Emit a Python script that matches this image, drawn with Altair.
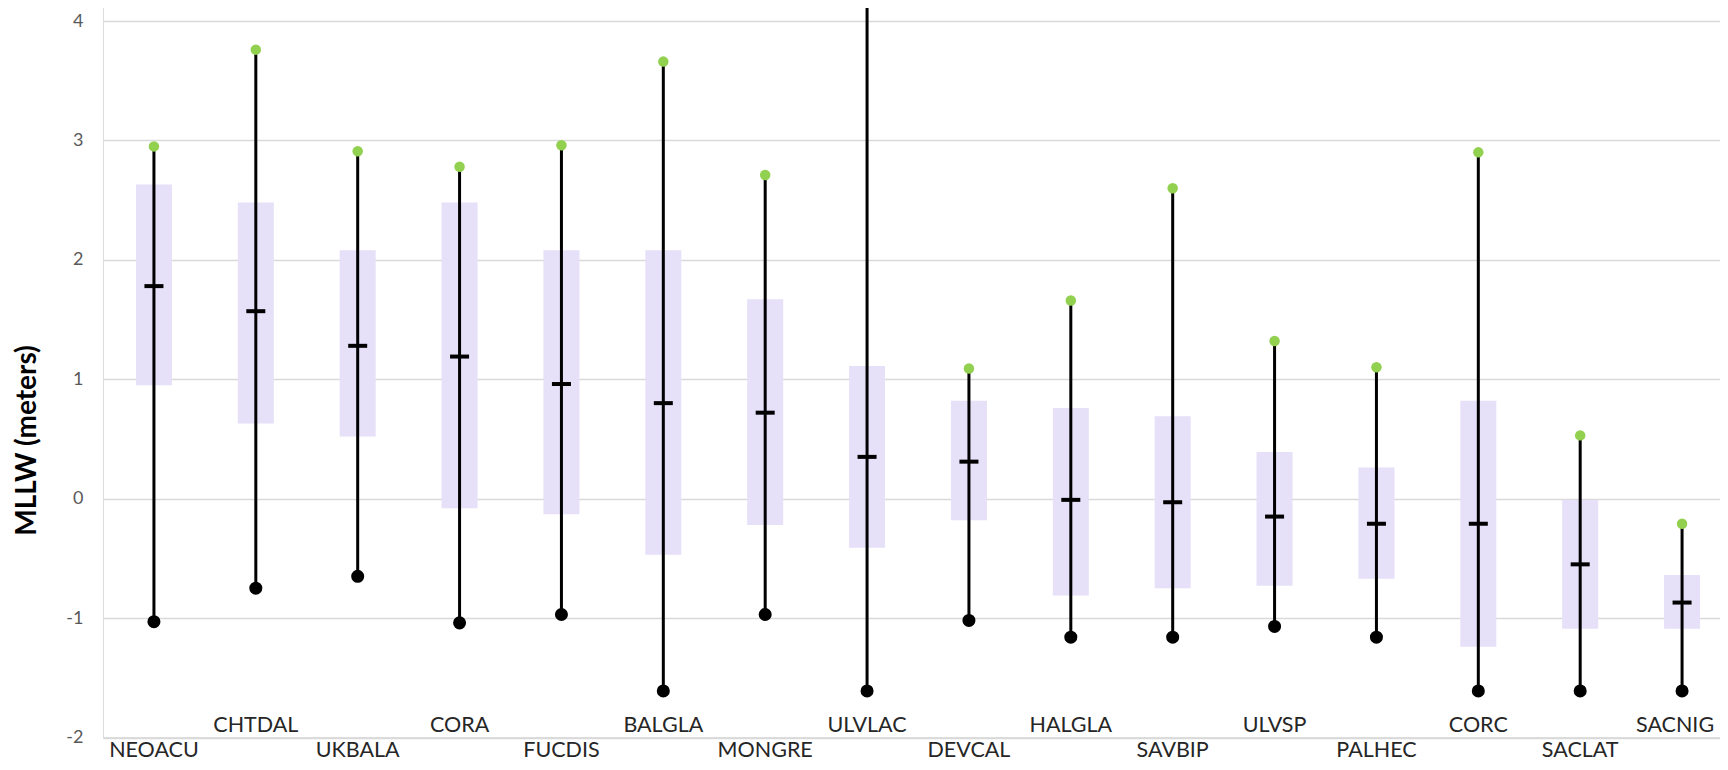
import json
import altair as alt
import pandas as pd

species = ["NEOACU", "CHTDAL", "UKBALA", "CORA", "FUCDIS", "BALGLA", "MONGRE", "ULVLAC",
           "DEVCAL", "HALGLA", "SAVBIP", "ULVSP", "PALHEC", "CORC", "SACLAT", "SACNIG"]
max_vals = [2.95, 3.76, 2.91, 2.78, 2.96, 3.66, 2.71, 4.18, 1.09, 1.66, 2.60, 1.32, 1.10, 2.90, 0.53, -0.21]
q_high = [2.63, 2.48, 2.08, 2.48, 2.08, 2.08, 1.67, 1.11, 0.82, 0.76, 0.69, 0.39, 0.26, 0.82, -0.01, -0.64]
q_low = [0.95, 0.63, 0.52, -0.08, -0.13, -0.47, -0.22, -0.41, -0.18, -0.81, -0.75, -0.73, -0.67, -1.24, -1.09, -1.09]
medians = [1.78, 1.57, 1.28, 1.19, 0.96, 0.80, 0.72, 0.35, 0.31, -0.01, -0.03, -0.15, -0.21, -0.21, -0.55, -0.87]
min_vals = [-1.03, -0.75, -0.65, -1.04, -0.97, -1.61, -0.97, -1.61, -1.02, -1.16, -1.16, -1.07, -1.16, -1.61, -1.61, -1.61]
y_ticks = [-2, -1, 0, 1, 2, 3, 4]

df = pd.DataFrame({
    "species": species,
    "max": max_vals,
    "qhigh": q_high,
    "qlow": q_low,
    "median": medians,
    "min": min_vals,
})

upper_row = species[1::2]
test_expr = "indexof(" + json.dumps(upper_row) + ", datum.value) >= 0"
last_expr = "datum.value === " + json.dumps(species[-1])

x_enc = alt.X(
    "species:N",
    sort=species,
    scale=alt.Scale(paddingInner=0, paddingOuter=0, range=[0, 1630]),
    axis=alt.Axis(
        title=None,
        domain=True,
        domainColor="#d9d9d9",
        domainWidth=1.5,
        ticks=False,
        grid=False,
        labelAngle=0,
        labelAlign="center",
        labelBaseline="alphabetic",
        labelFont="Lato",
        labelFontSize=21.5,
        labelColor="#262626",
        labelOverlap=False,
        labelPadding={"condition": {"test": test_expr, "value": -6}, "value": 19},
        labelOffset={"condition": {"test": last_expr, "value": -7}, "value": 0},
    ),
)

y_scale = alt.Scale(domain=[-2, 4.1759], nice=False, zero=False)
y_axis = alt.Axis(
    values=y_ticks,
    labelExpr="'' + datum.value",
    domain=False,
    ticks=False,
    grid=True,
    gridColor="#d9d9d9",
    gridWidth=1.5,
    labelFont="Lato",
    labelFontSize=18,
    labelColor="#595959",
    labelPadding=20,
    title="MLLW (meters)",
    titleFont="Lato",
    titleFontSize=28,
    titleFontWeight="bold",
    titleColor="#000000",
    titleAngle=270,
    titleAlign="center",
    titleBaseline="middle",
    titleX=-76,
    titleY=440,
)

base = alt.Chart(df)

boxes = base.mark_bar(color="#E6E0F8", size=36).encode(
    x=x_enc,
    y=alt.Y("qlow:Q", scale=y_scale, axis=y_axis),
    y2="qhigh:Q",
)
whisk = base.mark_rule(color="#000000", strokeWidth=3).encode(
    x=x_enc, y=alt.Y("min:Q", scale=y_scale), y2="max:Q"
)
med = base.mark_tick(color="#000000", thickness=4, size=19, opacity=1).encode(
    x=x_enc, y=alt.Y("median:Q", scale=y_scale)
)
top_pt = base.mark_circle(color="#92D050", size=110, opacity=1).encode(
    x=x_enc, y=alt.Y("max:Q", scale=y_scale)
)
low_pt = base.mark_circle(color="#000000", size=170, opacity=1).encode(
    x=x_enc, y=alt.Y("min:Q", scale=y_scale)
)

chart = alt.layer(boxes, whisk, med, top_pt, low_pt).properties(
    width=1617,
    height=737.5,
    autosize=alt.AutoSizeParams(type="none"),
    padding={"left": 95, "top": -8, "right": 0, "bottom": 24.5},
).configure_view(stroke=None).configure(font="Lato")

chart.save("out.html", embed_options={"renderer": "svg", "actions": False})
